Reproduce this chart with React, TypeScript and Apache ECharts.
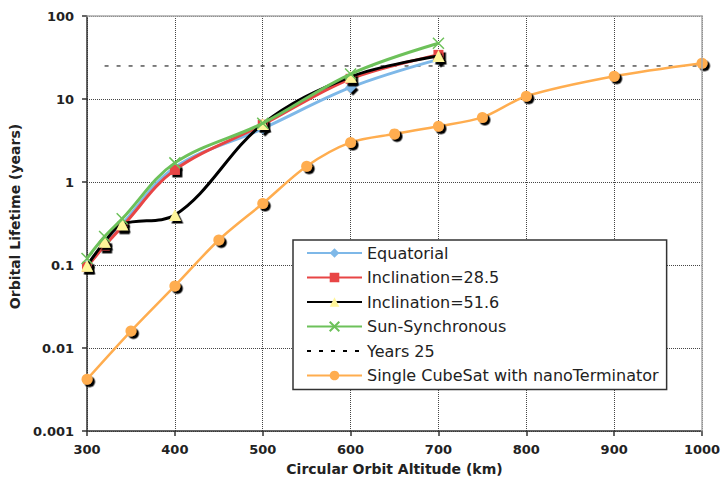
import React, { useEffect, useRef } from "react";
import * as echarts from "echarts";

const altShort = [300, 320, 340, 400, 500, 600, 700];
const equatorial = [0.1, 0.18, 0.31, 1.5, 4.4, 13.8, 30];
const incl285 = [0.095, 0.17, 0.29, 1.4, 4.9, 17.5, 34];
const incl516 = [0.098, 0.19, 0.31, 0.4, 5.0, 18.5, 33];
const sunSync = [0.12, 0.22, 0.36, 1.7, 5.1, 20, 47];
const yearsAlt = [320, 1000];
const yearsVal = [25, 25];
const cubeAlt = [300, 350, 400, 450, 500, 550, 600, 650, 700, 750, 800, 900, 1000];
const cubeVal = [0.0042, 0.016, 0.056, 0.2, 0.55, 1.55, 3.0, 3.8, 4.7, 6.0, 10.8, 18.8, 27];
const names = [
  "Equatorial",
  "Inclination=28.5",
  "Inclination=51.6",
  "Sun-Synchronous",
  "Years 25",
  "Single CubeSat with nanoTerminator",
];

const FONT = "DejaVu Sans";

function pairs(xs: number[], ys: number[]) {
  return xs.map((x, i) => [x, ys[i]]);
}

export default function App() {
  const ref = useRef<HTMLDivElement>(null);
  useEffect(() => {
    if (!ref.current) return;
    const chart = echarts.init(ref.current, null, { renderer: "svg" });
    const shadow = {
      shadowColor: "rgba(0,0,0,1)",
      shadowOffsetX: 2.5,
      shadowOffsetY: 2.5,
      shadowBlur: 1,
    };
    const axisLabelStyle = {
      fontFamily: FONT,
      fontWeight: "bold" as const,
      fontSize: 13,
      color: "#222",
    };
    chart.setOption({
      animation: false,
      backgroundColor: "#fff",
      grid: { left: 86, right: 22, top: 16, bottom: 50, containLabel: false },
      legend: {
        orient: "vertical",
        left: 293,
        top: 240,
        backgroundColor: "#fff",
        borderColor: "#333",
        borderWidth: 1.5,
        borderRadius: 0,
        padding: [4, 8, 5, 13],
        itemWidth: 55,
        itemHeight: 12,
        itemGap: 6.5,
        textStyle: { fontFamily: FONT, fontSize: 16, color: "#222", lineHeight: 18 },
        data: names,
      },
      xAxis: [
        {
          type: "value",
          min: 300,
          max: 1000,
          interval: 100,
          name: "Circular Orbit Altitude (km)",
          nameLocation: "middle",
          nameGap: 31,
          nameTextStyle: { fontFamily: FONT, fontWeight: "bold", fontSize: 14, color: "#222" },
          axisLine: { show: true, lineStyle: { color: "#333", width: 1.5 } },
          axisTick: { show: true, inside: false, length: 5, lineStyle: { color: "#333", width: 1.5 } },
          axisLabel: { ...axisLabelStyle, margin: 12, formatter: (v: number) => String(v) },
          splitLine: { show: true, lineStyle: { color: "#444", type: "dotted", width: 1 } },
        },
        {
          type: "value",
          position: "top",
          min: 300,
          max: 1000,
          interval: 100,
          z: 5,
          axisLine: { show: true, lineStyle: { color: "#aaa", width: 1.5 } },
          axisTick: { show: false },
          axisLabel: { show: false },
          splitLine: { show: false },
        },
      ],
      yAxis: [
        {
          type: "log",
          logBase: 10,
          min: 0.001,
          max: 100,
          name: "Orbital Lifetime (years)",
          nameLocation: "middle",
          nameGap: 62,
          nameTextStyle: {
            fontFamily: FONT,
            fontWeight: "bold",
            fontSize: 14,
            color: "#222",
            padding: [0, 0, 0, 14],
          },
          axisLine: { show: true, lineStyle: { color: "#333", width: 1.5 } },
          axisTick: { show: true, inside: false, length: 5, lineStyle: { color: "#333", width: 1.5 } },
          axisLabel: {
            ...axisLabelStyle,
            margin: 13,
            formatter: (v: number) => String(Number(v.toPrecision(1))),
          },
          splitLine: { show: true, lineStyle: { color: "#444", type: "dotted", width: 1 } },
        },
        {
          type: "log",
          logBase: 10,
          min: 0.001,
          max: 100,
          position: "right",
          z: 5,
          axisLine: { show: true, lineStyle: { color: "#aaa", width: 1.5 } },
          axisTick: { show: false },
          axisLabel: { show: false },
          splitLine: { show: false },
        },
      ],
      series: [
        {
          name: names[0],
          type: "line",
          data: pairs(altShort, equatorial),
          smooth: 0.35,
          symbol: "diamond",
          symbolSize: 11,
          lineStyle: { color: "#7EB8E8", width: 3 },
          itemStyle: { color: "#7EB8E8", ...shadow },
          z: 3,
        },
        {
          name: names[1],
          type: "line",
          data: pairs(altShort, incl285),
          smooth: 0.35,
          symbol: "rect",
          symbolSize: 10,
          lineStyle: { color: "#E84545", width: 3 },
          itemStyle: { color: "#E84545", ...shadow },
          z: 4,
        },
        {
          name: names[2],
          type: "line",
          data: pairs(altShort, incl516),
          smooth: 0.35,
          symbol: "triangle",
          symbolSize: 12,
          lineStyle: { color: "#000", width: 3 },
          itemStyle: { color: "#FFF59A", ...shadow },
          z: 5,
        },
        {
          name: names[3],
          type: "line",
          data: pairs(altShort, sunSync),
          smooth: 0.35,
          symbol: "path://M0,0L10,10M10,0L0,10",
          symbolSize: 11,
          lineStyle: { color: "#6DC15A", width: 3 },
          itemStyle: { color: "#6DC15A", borderColor: "#6DC15A", borderWidth: 1.5 },
          z: 6,
        },
        {
          name: names[4],
          type: "line",
          data: pairs(yearsAlt, yearsVal),
          symbol: "circle",
          showSymbol: false,
          lineStyle: { color: "#000", width: 1, type: [4, 8] },
          itemStyle: { color: "rgba(255,255,255,0)", borderWidth: 0 },
          z: 2,
        },
        {
          name: names[5],
          type: "line",
          data: pairs(cubeAlt, cubeVal),
          smooth: 0.3,
          symbol: "circle",
          symbolSize: 11,
          lineStyle: { color: "#FFAD4F", width: 2.5 },
          itemStyle: { color: "#FFAD4F", ...shadow },
          z: 2,
        },
      ],
    });
    return () => chart.dispose();
  }, []);
  return (
    <div
      ref={ref}
      style={{ position: "absolute", left: 0, top: 0, width: 724, height: 481 }}
    />
  );
}
